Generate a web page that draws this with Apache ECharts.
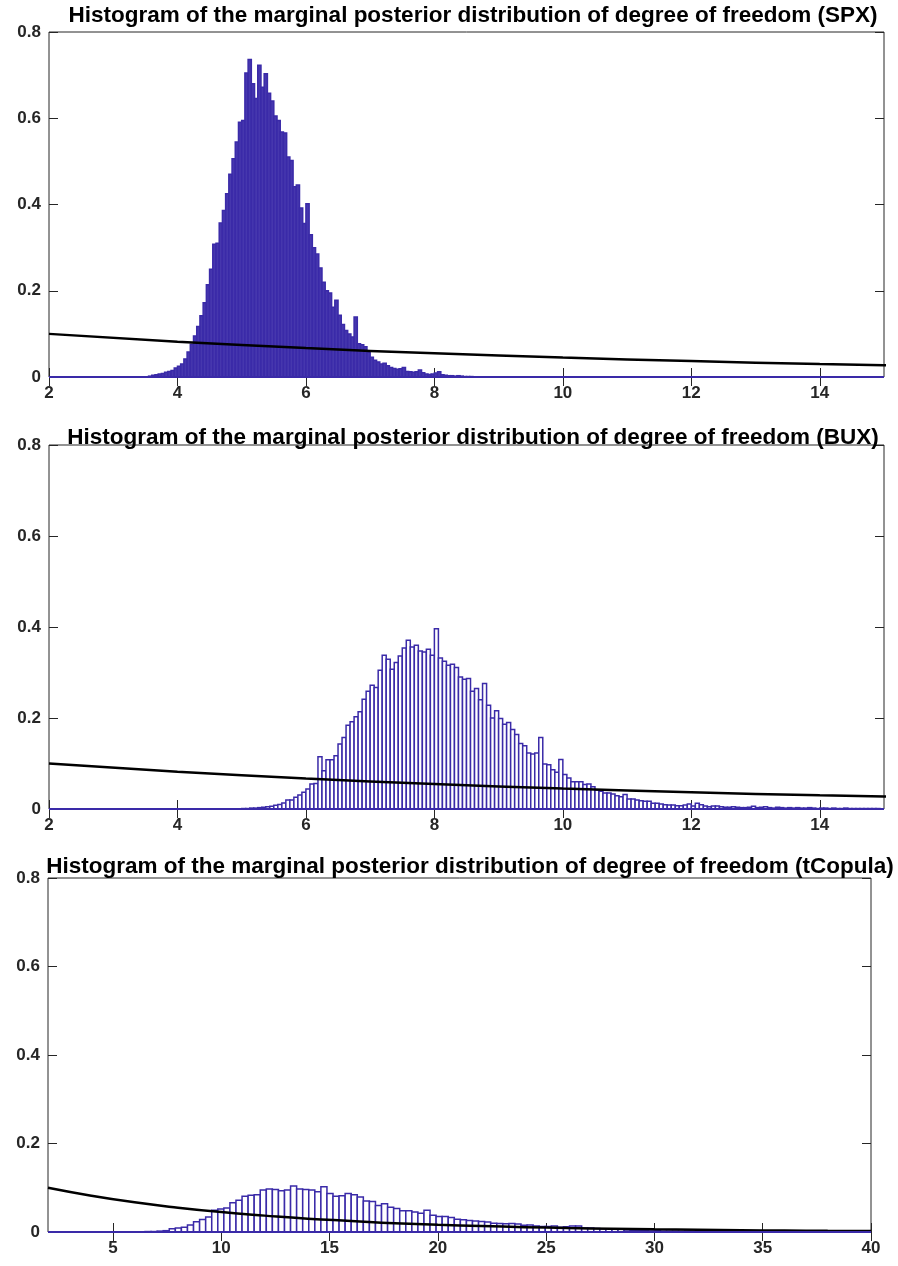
<!DOCTYPE html>
<html>
<head>
<meta charset="utf-8">
<script src="https://cdn.jsdelivr.net/npm/echarts@6/dist/echarts.min.js"></script>
<style>
html, body { margin: 0; padding: 0; background: #fff; }
#main { width: 898px; height: 1266px; }
</style>
</head>
<body>
<div id="main"></div>
<script>
// histogram bins: first left edge, bin width, heights
var spxStart = 3.55, spxWidth = 0.05;
var spxHeights = [
  0.002,0.004,0.005,0.007,0.008,0.011,0.013,0.015,0.021,0.025,
  0.030,0.042,0.058,0.076,0.095,0.117,0.142,0.172,0.214,0.250,
  0.308,0.310,0.357,0.386,0.425,0.470,0.506,0.545,0.591,0.595,
  0.705,0.736,0.680,0.646,0.723,0.672,0.703,0.658,0.640,0.605,
  0.595,0.568,0.566,0.510,0.502,0.441,0.445,0.392,0.356,0.402,
  0.330,0.300,0.285,0.253,0.220,0.200,0.195,0.162,0.178,0.143,
  0.122,0.108,0.100,0.093,0.139,0.077,0.075,0.070,0.058,0.046,
  0.039,0.035,0.030,0.032,0.026,0.022,0.020,0.018,0.019,0.022,
  0.013,0.012,0.011,0.012,0.016,0.010,0.007,0.006,0.007,0.009,
  0.012,0.005,0.004,0.003,0.003,0.002,0.003,0.002,0.001,0.001,0.001
];

var buxStart = 5.0, buxWidth = 0.0625;
var buxHeights = [
  0.001,0.001,0.002,0.002,0.003,0.004,0.005,0.006,0.008,0.010,
  0.013,0.020,0.020,0.026,0.031,0.037,0.044,0.055,0.056,0.115,
  0.084,0.108,0.108,0.117,0.143,0.157,0.184,0.192,0.203,0.214,
  0.241,0.259,0.272,0.267,0.305,0.338,0.329,0.307,0.322,0.336,
  0.354,0.371,0.356,0.360,
  0.347,0.345,0.351,0.338,0.396,0.332,0.325,0.316,0.318,0.311,
  0.290,0.285,0.287,0.259,0.265,0.240,0.276,0.228,0.200,0.216,
  0.199,0.186,0.190,0.175,0.164,0.144,0.139,0.123,0.121,0.123,
  0.157,0.099,0.097,
  0.086,0.081,0.109,0.076,0.068,0.060,0.060,0.060,0.054,0.055,
  0.049,0.042,0.039,0.035,0.035,0.033,0.029,0.027,0.032,0.022,
  0.022,0.020,0.018,0.017,0.017,0.0125,0.0125,0.011,0.0096,0.009,
  0.009,0.0074,0.0074,0.009,0.011,0.0066,0.0125,0.0096,0.0066,0.005,
  0.0066,0.0066,0.005,0.0037,0.0037,0.005,0.0037,0.003,
  0.003,0.004,0.006,0.003,0.004,0.005,0.003,0.002,0.004,0.003,
  0.002,0.003,0.002,0.003,0.002,0.002,0.003,0.002,0.001,0.002,
  0.002,0.001,0.002,0.001,0.001,0.002,0.001,0.001,0.001,0.001,
  0.001,0.001,0.001,0.001
];

var copStart = 6.2, copWidth = 0.28;
var copHeights = [
  0.0005,0.001,0.001,0.002,
  0.003,0.0075,0.009,0.011,0.016,0.023,0.028,0.034,0.049,0.052,
  0.054,0.066,0.072,0.081,0.083,0.084,0.095,0.097,0.096,0.093,
  0.095,0.104,0.097,0.096,0.095,0.091,0.102,0.087,0.081,0.082,
  0.087,0.084,0.079,0.070,0.069,0.060,0.064,0.056,0.053,0.048,
  0.048,0.045,
  0.0425,0.049,0.038,0.035,0.035,0.033,0.029,0.0276,0.026,0.0246,
  0.024,0.0224,0.020,0.019,0.0186,0.019,0.018,0.015,0.0157,0.0134,
  0.0127,0.0127,0.0134,0.011,0.012,0.0134,0.0134,0.009,0.009,0.008,
  0.0075,0.0075,0.0075,0.0067,0.0045,0.0037,
  0.003,0.003,0.0025,0.003,0.002,0.002,0.002,0.0015,0.002,0.0015,
  0.001,0.0015,0.001,0.001,0.001,0.001,0.0008,0.0008,0.0008,0.0006,
  0.0006,0.0005,0.0005,0.0005,0.0004,0.0004,0.0003,0.0003,0.0003,0.0003,
  0.0002,0.0002,0.0002,0.0002,0.0002,0.0001,0.0001,0.0001,0.0001
];

// prior density curve (black line)
var priorX = [2, 4, 6, 8, 10, 12, 14, 16, 18, 20, 22, 24, 26, 28, 30, 32, 34, 36, 38, 40];
var priorY = [0.1, 0.082, 0.067, 0.055, 0.045, 0.037, 0.030, 0.025, 0.020, 0.0165,
              0.0135, 0.011, 0.009, 0.0074, 0.006, 0.005, 0.004, 0.0033, 0.0027, 0.0022];

var titles = [
  'Histogram of the marginal posterior distribution of degree of freedom (SPX)',
  'Histogram of the marginal posterior distribution of degree of freedom (BUX)',
  'Histogram of the marginal posterior distribution of degree of freedom (tCopula)'
];
var dfTicks = [2, 4, 6, 8, 10, 12, 14];
var copTicks = [5, 10, 15, 20, 25, 30, 35, 40];

var FONT = '"Liberation Sans", Arial, Helvetica, sans-serif';
var AXC = '#262626';
var EDGE = '#3a2aa8';

function toBins(start, width, heights) {
  return heights.map(function (h, i) {
    return [start + i * width, start + (i + 1) * width, h];
  });
}
var priorData = priorX.map(function (x, i) { return [x, priorY[i]]; });

var panels = [
  { grid: {left: 49, top: 32, width: 835, height: 345}, min: 2, max: 15, ticks: dfTicks,
    bins: toBins(spxStart, spxWidth, spxHeights), fill: '#4637ae', title: {x: 468, y: -1} },
  { grid: {left: 49, top: 445, width: 835, height: 364}, min: 2, max: 15, ticks: dfTicks,
    bins: toBins(buxStart, buxWidth, buxHeights), fill: '#ffffff', title: {x: 468, y: 421} },
  { grid: {left: 48, top: 878, width: 823, height: 354}, min: 2, max: 40, ticks: copTicks,
    bins: toBins(copStart, copWidth, copHeights), fill: '#ffffff', title: {x: 465, y: 850} }
];

var option = { animation: false, backgroundColor: '#fff', title: [], grid: [], xAxis: [], yAxis: [], series: [] };

panels.forEach(function (p, i) {
  option.title.push({
    text: titles[i], left: p.title.x, top: p.title.y, textAlign: 'center',
    textStyle: { fontFamily: FONT, fontWeight: 'bold', fontSize: 22.5, color: '#000' }
  });
  option.grid.push(Object.assign({ show: true, borderColor: AXC, borderWidth: 1, backgroundColor: '#fff' }, p.grid));

  var tickStyle = { show: true, inside: true, length: 9, lineStyle: { color: AXC, width: 1 }, customValues: p.ticks };
  option.xAxis.push({
    type: 'value', gridIndex: i, min: p.min, max: p.max, position: 'bottom',
    axisLine: { show: false }, splitLine: { show: false }, axisTick: tickStyle,
    axisLabel: { customValues: p.ticks, fontFamily: FONT, fontWeight: 'bold', fontSize: 17, color: AXC, margin: 8 }
  });
  option.xAxis.push({
    type: 'value', gridIndex: i, min: p.min, max: p.max, position: 'top',
    axisLine: { show: false }, splitLine: { show: false }, axisTick: tickStyle, axisLabel: { show: false }
  });
  var yTick = { show: true, inside: true, length: 9, lineStyle: { color: AXC, width: 1 } };
  option.yAxis.push({
    type: 'value', gridIndex: i, min: 0, max: 0.8, interval: 0.2, position: 'left',
    axisLine: { show: false }, splitLine: { show: false }, axisTick: yTick,
    axisLabel: { fontFamily: FONT, fontWeight: 'bold', fontSize: 17, color: AXC, margin: 8 }
  });
  option.yAxis.push({
    type: 'value', gridIndex: i, min: 0, max: 0.8, interval: 0.2, position: 'right',
    axisLine: { show: false }, splitLine: { show: false }, axisTick: yTick, axisLabel: { show: false }
  });

  option.series.push({
    type: 'custom', xAxisIndex: 2 * i, yAxisIndex: 2 * i, clip: true,
    data: p.bins,
    renderItem: (function (fill) {
      return function (params, api) {
        var a = api.coord([api.value(0), api.value(2)]);
        var b = api.coord([api.value(1), 0]);
        return {
          type: 'rect',
          shape: { x: a[0], y: a[1], width: b[0] - a[0], height: b[1] - a[1] },
          style: { fill: fill, stroke: EDGE, lineWidth: 1.5 }
        };
      };
    })(p.fill),
    markLine: {
      silent: true, symbol: 'none', label: { show: false },
      lineStyle: { color: EDGE, type: 'solid', width: 2 },
      data: [{ yAxis: 0 }]
    },
    z: 2
  });
  option.series.push({
    type: 'line', xAxisIndex: 2 * i, yAxisIndex: 2 * i, data: priorData,
    smooth: true, showSymbol: false, clip: true,
    lineStyle: { color: '#000', width: 2.5 }, z: 3
  });
});

var chart = echarts.init(document.getElementById('main'));
chart.setOption(option);
</script>
</body>
</html>
